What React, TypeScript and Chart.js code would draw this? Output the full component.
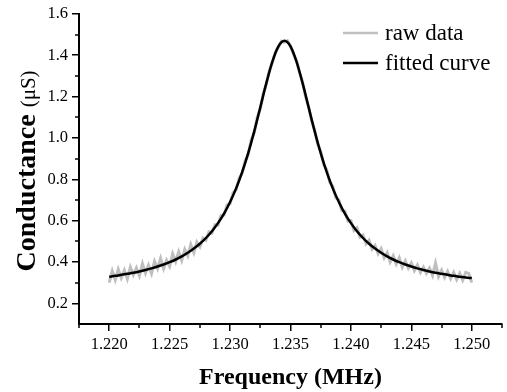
import React, { useEffect, useRef } from "react";
import { Chart, registerables } from "chart.js";

Chart.register(...registerables);

const freqFit = [
  1.22, 1.2205, 1.221, 1.2215, 1.222, 1.2225, 1.223, 1.2235, 1.224, 1.2245,
  1.225, 1.2255, 1.226, 1.2265, 1.227, 1.2275, 1.228, 1.2285, 1.229, 1.2295,
  1.23, 1.2305, 1.231, 1.2315, 1.232, 1.2325, 1.233, 1.2335, 1.234, 1.2345,
  1.235, 1.2355, 1.236, 1.2365, 1.237, 1.2375, 1.238, 1.2385, 1.239, 1.2395,
  1.24, 1.2405, 1.241, 1.2415, 1.242, 1.2425, 1.243, 1.2435, 1.244, 1.2445,
  1.245, 1.2455, 1.246, 1.2465, 1.247, 1.2475, 1.248, 1.2485, 1.249, 1.2495, 1.25,
];
const fittedCurve = [
  0.329, 0.333, 0.338, 0.343, 0.348, 0.354, 0.361, 0.369, 0.378, 0.388,
  0.399, 0.412, 0.427, 0.445, 0.465, 0.488, 0.516, 0.549, 0.588, 0.634,
  0.69, 0.756, 0.835, 0.927, 1.032, 1.148, 1.265, 1.369, 1.443, 1.47,
  1.443, 1.369, 1.265, 1.148, 1.032, 0.927, 0.835, 0.756, 0.69, 0.634,
  0.588, 0.549, 0.516, 0.488, 0.465, 0.445, 0.427, 0.412, 0.399, 0.388,
  0.378, 0.369, 0.361, 0.354, 0.348, 0.343, 0.338, 0.333, 0.329, 0.325, 0.322,
];

const freqRaw = [
  1.22, 1.22025, 1.2205, 1.22075, 1.221, 1.22125, 1.2215, 1.22175, 1.222, 1.22225,
  1.2225, 1.22275, 1.223, 1.22325, 1.2235, 1.22375, 1.224, 1.22425, 1.2245, 1.22475,
  1.225, 1.22525, 1.2255, 1.22575, 1.226, 1.22625, 1.2265, 1.22675, 1.227, 1.22725,
  1.2275, 1.22775, 1.228, 1.22825, 1.2285, 1.22875, 1.229, 1.22925, 1.2295, 1.22975,
  1.23, 1.23025, 1.2305, 1.23075, 1.231, 1.23125, 1.2315, 1.23175, 1.232, 1.23225,
  1.2325, 1.23275, 1.233, 1.23325, 1.2335, 1.23375, 1.234, 1.23425, 1.2345, 1.23475,
  1.235, 1.23525, 1.2355, 1.23575, 1.236, 1.23625, 1.2365, 1.23675, 1.237, 1.23725,
  1.2375, 1.23775, 1.238, 1.23825, 1.2385, 1.23875, 1.239, 1.23925, 1.2395, 1.23975,
  1.24, 1.24025, 1.2405, 1.24075, 1.241, 1.24125, 1.2415, 1.24175, 1.242, 1.24225,
  1.2425, 1.24275, 1.243, 1.24325, 1.2435, 1.24375, 1.244, 1.24425, 1.2445, 1.24475,
  1.245, 1.24525, 1.2455, 1.24575, 1.246, 1.24625, 1.2465, 1.24675, 1.247, 1.24725,
  1.2475, 1.24775, 1.248, 1.24825, 1.2485, 1.24875, 1.249, 1.24925, 1.2495, 1.24975, 1.25,
];
const rawData = [
  0.3, 0.356, 0.313, 0.365, 0.323, 0.36, 0.318, 0.375, 0.338, 0.371,
  0.334, 0.392, 0.346, 0.385, 0.344, 0.403, 0.368, 0.418, 0.368, 0.408,
  0.379, 0.44, 0.402, 0.449, 0.407, 0.461, 0.43, 0.485, 0.445, 0.496,
  0.473, 0.515, 0.505, 0.545, 0.54, 0.58, 0.578, 0.625, 0.628, 0.675,
  0.682, 0.735, 0.75, 0.805, 0.83, 0.89, 0.92, 0.99, 1.025, 1.1,
  1.14, 1.215, 1.26, 1.325, 1.365, 1.415, 1.44, 1.468, 1.462, 1.47,
  1.445, 1.405, 1.372, 1.315, 1.27, 1.2, 1.152, 1.082, 1.038, 0.97,
  0.935, 0.87, 0.845, 0.785, 0.765, 0.71, 0.7, 0.648, 0.645, 0.598,
  0.6, 0.553, 0.565, 0.52, 0.53, 0.488, 0.505, 0.462, 0.48, 0.44,
  0.465, 0.42, 0.445, 0.4, 0.43, 0.39, 0.42, 0.375, 0.405, 0.37,
  0.395, 0.358, 0.385, 0.35, 0.375, 0.345, 0.37, 0.335, 0.395, 0.33,
  0.36, 0.325, 0.355, 0.32, 0.35, 0.315, 0.345, 0.312, 0.35, 0.345, 0.3,
];

const xMajorTicks = [1.22, 1.225, 1.23, 1.235, 1.24, 1.245, 1.25];
const xMinorTicks = [1.2175, 1.2225, 1.2275, 1.2325, 1.2375, 1.2425, 1.2475, 1.2525];
const yMajorTicks = [0.2, 0.4, 0.6, 0.8, 1.0, 1.2, 1.4, 1.6];
const yMinorTicks = [0.3, 0.5, 0.7, 0.9, 1.1, 1.3, 1.5];

const xTitle = "Frequency (MHz)";
const yTitleBold = "Conductance ";
const yTitleUnit = "(\u03bcS)";
const legendLabels = ["raw data", "fitted curve"];

const SERIF = '"Liberation Serif", "Times New Roman", serif';

const decorPlugin = {
  id: "decor",
  afterDraw(chart: any) {
    const ctx = chart.ctx as CanvasRenderingContext2D;
    const xs = chart.scales.x;
    const ys = chart.scales.y;
    ctx.save();
    ctx.strokeStyle = "#000";
    ctx.lineWidth = 1.5;
    for (const v of xMinorTicks) {
      const px = Math.round(xs.getPixelForValue(v));
      ctx.beginPath();
      ctx.moveTo(px, ys.bottom);
      ctx.lineTo(px, ys.bottom + 4);
      ctx.stroke();
    }
    for (const v of yMinorTicks) {
      const py = Math.round(ys.getPixelForValue(v));
      ctx.beginPath();
      ctx.moveTo(xs.left, py);
      ctx.lineTo(xs.left - 4, py);
      ctx.stroke();
    }
    // x title
    ctx.fillStyle = "#000";
    ctx.textBaseline = "alphabetic";
    ctx.textAlign = "center";
    ctx.font = `bold 24px ${SERIF}`;
    ctx.fillText(xTitle, (xs.left + xs.right) / 2, 384);
    // y title
    ctx.save();
    ctx.translate(35, (ys.top + ys.bottom) / 2 + 2);
    ctx.rotate(-Math.PI / 2);
    ctx.textAlign = "left";
    ctx.font = `bold 28px ${SERIF}`;
    const w1 = ctx.measureText(yTitleBold).width;
    ctx.font = `21px ${SERIF}`;
    const w2 = ctx.measureText(yTitleUnit).width;
    const start = -(w1 + w2) / 2;
    ctx.font = `bold 28px ${SERIF}`;
    ctx.fillText(yTitleBold, start, 0);
    ctx.font = `21px ${SERIF}`;
    ctx.fillText(yTitleUnit, start + w1, 0);
    ctx.restore();
    // legend
    const legendColors = ["#c0c0c0", "#000"];
    const legendY = [33, 63];
    ctx.font = `23px ${SERIF}`;
    ctx.textAlign = "left";
    ctx.textBaseline = "middle";
    for (let i = 0; i < 2; i++) {
      ctx.strokeStyle = legendColors[i];
      ctx.lineWidth = 2.5;
      ctx.beginPath();
      ctx.moveTo(343, legendY[i]);
      ctx.lineTo(378, legendY[i]);
      ctx.stroke();
      ctx.fillStyle = "#000";
      ctx.fillText(legendLabels[i], 385, legendY[i] + 1);
    }
    ctx.restore();
  },
};

export default function App() {
  const canvasRef = useRef<HTMLCanvasElement | null>(null);

  useEffect(() => {
    document.body.style.margin = "0";
    const canvas = canvasRef.current;
    if (!canvas) return;
    const chart = new Chart(canvas, {
      type: "line",
      data: {
        datasets: [
          {
            label: legendLabels[1],
            data: freqFit.map((x, i) => ({ x, y: fittedCurve[i] })),
            borderColor: "#000",
            borderWidth: 2.5,
            pointRadius: 0,
            cubicInterpolationMode: "monotone",
            order: 0,
          },
          {
            label: legendLabels[0],
            data: freqRaw.map((x, i) => ({ x, y: rawData[i] })),
            borderColor: "#bfbfbf",
            borderWidth: 3,
            pointRadius: 0,
            tension: 0,
            order: 1,
          },
        ],
      },
      options: {
        responsive: false,
        animation: false,
        layout: { padding: { top: 11, right: 5, left: 0, bottom: 0 } },
        plugins: { legend: { display: false }, tooltip: { enabled: false } },
        scales: {
          x: {
            type: "linear",
            min: 1.2175,
            max: 1.2525,
            afterBuildTicks: (scale: any) => {
              scale.ticks = xMajorTicks.map((v) => ({ value: v }));
            },
            afterFit: (scale: any) => {
              scale.height = 68;
            },
            grid: {
              display: true,
              drawOnChartArea: false,
              drawTicks: true,
              tickLength: 7,
              color: "#000",
              lineWidth: 1.5,
            },
            border: { display: true, color: "#000", width: 2 },
            ticks: {
              padding: 4,
              color: "#000",
              font: { family: SERIF, size: 16.5 },
              maxRotation: 0,
              callback: (v: any) => Number(v).toFixed(3),
            },
          },
          y: {
            type: "linear",
            min: 0.1,
            max: 1.6,
            afterBuildTicks: (scale: any) => {
              scale.ticks = yMajorTicks.map((v) => ({ value: v }));
            },
            afterFit: (scale: any) => {
              scale.width = 79;
            },
            grid: {
              display: true,
              drawOnChartArea: false,
              drawTicks: true,
              tickLength: 7,
              color: "#000",
              lineWidth: 1.5,
            },
            border: { display: true, color: "#000", width: 2 },
            ticks: {
              padding: 4,
              color: "#000",
              font: { family: SERIF, size: 16.5 },
              callback: (v: any) => Number(v).toFixed(1),
            },
          },
        },
      },
      plugins: [decorPlugin],
    } as any);
    return () => chart.destroy();
  }, []);

  return (
    <div style={{ width: 507, height: 392 }}>
      <canvas ref={canvasRef} width={507} height={392} />
    </div>
  );
}
